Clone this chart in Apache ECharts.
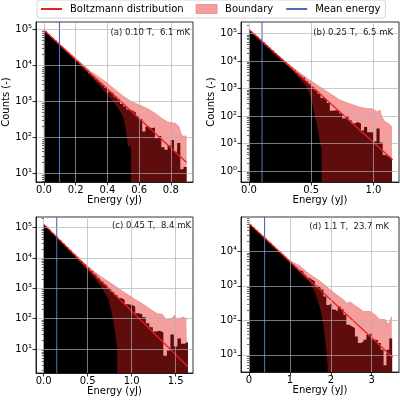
<!DOCTYPE html>
<html>
<head>
<meta charset="utf-8">
<script src="https://cdn.jsdelivr.net/npm/echarts@6.0.0/dist/echarts.min.js"></script>
<style>
  html, body { margin: 0; padding: 0; background: #fff; }
  #chart { width: 400px; height: 400px; }
</style>
</head>
<body>
<div id="chart"></div>
<script type="text/javascript">
    // ---- data ----
    var binWidth = [0.02, 0.025, 0.04, 0.07];

    // coarse histograms (dark red), one count per bin starting at 0
    var histA = [88000, 73000, 60000, 49500, 40500, 34000, 28000, 23500, 19000, 16000,
        13000, 11000, 9000, 7500, 6000, 5100, 4150, 3500, 2850, 2350,
        1870, 1690, 1360, 1150, 850, 720, 600, 555, 490, 380,
        320, 145, 200, 180, 190, 94, 110, 53, 45, 60,
        85, 40, 70, 13, 15];
    var histB = [124000, 99000, 78000, 62000, 49000, 38500, 30500, 24000, 19000, 15000,
        11800, 9400, 7400, 5850, 4600, 3650, 3000, 2500, 1900, 1500,
        1150, 870, 650, 450, 400, 300, 155, 163, 160, 124,
        81, 100, 71, 54, 61, 54, 30, 40, 26, 25,
        12, 35, 11, 3.8, 3.3, 2.8];
    var histC = [112000, 87000, 66000, 51000, 39000, 30000, 23000, 17800, 13600, 10400,
        8000, 6200, 4800, 3700, 2850, 2150, 1650, 1300, 1000, 760,
        600, 480, 420, 300, 290, 250, 150, 140, 112, 70,
        52, 38, 40, 36, 6, 9, 30, 12, 22, 15,
        17];
    var histD = [58000, 48300, 40300, 33700, 28200, 23800, 19900, 16700, 14000, 11700,
        9800, 8200, 6900, 5800, 4800, 4050, 3400, 2840, 2600, 2090,
        1700, 1500, 1350, 1000, 900, 780, 490, 280, 316, 205,
        182, 250, 210, 145, 74, 66, 60, 34, 22, 24,
        27.5, 38, 43, 27.5, 27, 22, 14, 5, 14, 30];

    // black distribution [energy, counts]
    var blackA = [[0, 95000], [0.1, 36500], [0.2, 14000], [0.25, 8400], [0.3, 4700], [0.35, 2700], [0.39, 1700],
        [0.43, 1050], [0.47, 620], [0.5, 350], [0.515, 170], [0.528, 55], [0.538, 55], [0.549, 55]];
    var blackB = [[0, 120000], [0.1, 49000], [0.2, 19000], [0.3, 7300], [0.36, 4000], [0.41, 2100], [0.46, 1150],
        [0.5, 420], [0.53, 90], [0.557, 25], [0.571, 9], [0.584, 6]];
    var blackC = [[0, 125000], [0.2, 33000], [0.37, 10000], [0.5, 3900], [0.59, 1900], [0.65, 1100], [0.73, 460],
        [0.766, 170], [0.8, 50], [0.82, 18], [0.836, 10]];
    var blackD = [[0, 60000], [0.5, 17500], [1.0, 4700], [1.25, 2350], [1.49, 1200], [1.61, 620], [1.74, 205],
        [1.82, 66], [1.88, 14], [1.92, 4]];

    // upper edge of the boundary band [energy, counts]
    var boundA = [[0, 100000], [0.1, 39000], [0.2, 16000], [0.3, 6500], [0.386, 3600], [0.45, 2100], [0.5, 1400],
        [0.55, 1000], [0.6, 800], [0.65, 640], [0.7, 470], [0.75, 320], [0.78, 270], [0.8, 255], [0.83, 245],
        [0.85, 200], [0.87, 110], [0.9, 108]];
    var boundB = [[0, 142000], [0.1, 56000], [0.2, 22000], [0.3, 9000], [0.41, 3700], [0.49, 2000], [0.57, 1150],
        [0.65, 660], [0.73, 380], [0.81, 280], [0.89, 210], [0.95, 185], [0.99, 185], [1.03, 140], [1.045, 130],
        [1.053, 165], [1.066, 95], [1.093, 62], [1.12, 54], [1.15, 40]];
    var boundC = [[0, 130000], [0.2, 35000], [0.35, 13500], [0.5, 5300], [0.65, 2400], [0.8, 1250], [0.92, 720],
        [1.04, 430], [1.16, 260], [1.23, 186], [1.29, 145], [1.35, 140], [1.39, 90], [1.45, 100], [1.47, 100],
        [1.49, 130], [1.51, 95], [1.53, 90], [1.59, 112], [1.62, 100], [1.64, 98]];
    var boundD = [[0, 64000], [0.5, 19000], [1.0, 5300], [1.25, 3700], [1.49, 2100], [1.74, 1350], [1.98, 780],
        [2.14, 550], [2.31, 390], [2.4, 310], [2.47, 340], [2.55, 290], [2.63, 250], [2.8, 180], [2.96, 180],
        [3.08, 145], [3.2, 105], [3.33, 105], [3.41, 74], [3.49, 130], [3.5, 130]];

    // Boltzmann fit end points
    var boltzA = [[0, 95000], [0.9, 20]];
    var boltzB = [[0, 140000], [1.155, 2.6]];
    var boltzC = [[0, 128000], [1.64, 2.6]];
    var boltzD = [[0, 63000], [3.51, 8.5]];

    var meanEnergy = [0.098, 0.105, 0.148, 0.38];
    var panelTitles = ['(a) 0.10 T,  6.1 mK', '(b) 0.25 T,  6.5 mK', '(c) 0.45 T,  8.4 mK', '(d) 1.1 T,  23.7 mK'];
    var xTicks = [[0, 0.2, 0.4, 0.6, 0.8], [0, 0.5, 1.0], [0, 0.5, 1.0, 1.5], [0, 1, 2, 3]];
    var yTicks = [[10, 100, 1e3, 1e4, 1e5], [1, 10, 100, 1e3, 1e4, 1e5], [10, 100, 1e3, 1e4, 1e5], [10, 100, 1e3, 1e4]];

    // ---- layout ----
    var FONT = 'DejaVu Sans';
    var grids = [
        {left: 36, top: 22, width: 157, height: 160},
        {left: 241, top: 22, width: 158, height: 160},
        {left: 36, top: 217, width: 157, height: 156},
        {left: 241, top: 217, width: 158, height: 155}
    ];
    var xRange = [[-0.05, 0.94], [-0.064, 1.206], [-0.0875, 1.697], [-0.196, 3.667]];
    var yRange = [[5.75, 162000], [0.4, 263000], [1.62, 224000], [3.2, 98000]];
    var xDecimals = [1, 1, 1, 0];
    var showCounts = [true, true, false, false];
    var titlePos = [[190, 33], [393, 33], [191, 226], [389, 227]];

    var hists = [histA, histB, histC, histD];
    var blacks = [blackA, blackB, blackC, blackD];
    var bounds = [boundA, boundB, boundC, boundD];
    var boltz = [boltzA, boltzB, boltzC, boltzD];

    var sup = {'-': '\u207b', '0': '\u2070', '1': '\u00b9', '2': '\u00b2', '3': '\u00b3', '4': '\u2074',
        '5': '\u2075', '6': '\u2076', '7': '\u2077', '8': '\u2078', '9': '\u2079'};
    function powLabel(v) {
        var e = Math.round(Math.log10(v));
        return '10' + String(e).split('').map(function (c) { return sup[c]; }).join('');
    }
    function minorTicks(r) {
        var out = [];
        for (var k = -1; k < 6; k++) {
            for (var m = 2; m < 10; m++) {
                var v = m * Math.pow(10, k);
                if (v > r[0] && v < r[1]) out.push(v);
            }
        }
        return out;
    }
    function histPoints(counts, w) {
        var pts = counts.map(function (c, i) { return [i * w, c]; });
        pts.push([counts.length * w, counts[counts.length - 1]]);
        return pts;
    }

    var gridOpts = [], xAxes = [], yAxes = [], minorAxes = [], series = [], graphics = [];
    var labelStyle = {fontSize: 10, fontFamily: FONT, color: '#000'};

    for (var i = 0; i < 4; i++) {
        gridOpts.push({
            left: grids[i].left, top: grids[i].top, width: grids[i].width, height: grids[i].height,
            show: true, borderColor: '#000', borderWidth: 0.8, backgroundColor: 'transparent',
            containLabel: false, outerBoundsMode: 'none'
        });
        xAxes.push({
            type: 'value', gridIndex: i, min: xRange[i][0], max: xRange[i][1], z: 5,
            axisLine: {show: true, onZero: false, lineStyle: {color: '#000', width: 0.8}},
            axisTick: {show: true, length: 3.5, customValues: xTicks[i], lineStyle: {color: '#000', width: 0.8}},
            axisLabel: {
                show: true, customValues: xTicks[i], margin: 3, fontSize: 10, fontFamily: FONT, color: '#000',
                formatter: (function (d) { return function (v) { return Number(v).toFixed(d); }; })(xDecimals[i])
            },
            splitLine: {show: true, lineStyle: {color: '#b0b0b0', width: 0.8, opacity: 0.85}},
            name: 'Energy (yJ)', nameLocation: 'middle', nameGap: 13, nameTextStyle: labelStyle
        });
        yAxes.push({
            type: 'log', logBase: 10, gridIndex: i, min: yRange[i][0], max: yRange[i][1], z: 5,
            axisLine: {show: true, onZero: false, lineStyle: {color: '#000', width: 0.8}},
            axisTick: {show: true, length: 3.5, customValues: yTicks[i], lineStyle: {color: '#000', width: 0.8}},
            axisLabel: {
                show: true, customValues: yTicks[i], margin: 4, fontSize: 10, fontFamily: FONT, color: '#000',
                formatter: powLabel
            },
            splitLine: {show: true, lineStyle: {color: '#b0b0b0', width: 0.8, opacity: 0.85}},
            name: showCounts[i] ? 'Counts (-)' : '', nameLocation: 'middle', nameGap: 23, nameRotate: 90,
            nameTextStyle: labelStyle
        });
        minorAxes.push({
            type: 'log', logBase: 10, gridIndex: i, min: yRange[i][0], max: yRange[i][1], position: 'left', z: 5,
            axisLine: {show: false},
            axisTick: {show: true, length: 2, customValues: minorTicks(yRange[i]), lineStyle: {color: '#000', width: 0.6}},
            axisLabel: {show: false},
            splitLine: {show: false}
        });

        series.push({
            name: 'Boundary', type: 'line', xAxisIndex: i, yAxisIndex: i, data: bounds[i],
            symbol: 'none', z: 1, silent: true,
            itemStyle: {color: '#f59e9e'},
            lineStyle: {color: '#f08585', width: 0.8},
            areaStyle: {color: '#f59e9e', opacity: 1, origin: 'start'}
        });
        series.push({
            type: 'line', xAxisIndex: i, yAxisIndex: i, data: histPoints(hists[i], binWidth[i]),
            step: 'end', symbol: 'none', z: 2, silent: true,
            itemStyle: {color: '#5f0c0c'},
            lineStyle: {color: '#5f0c0c', width: 0},
            areaStyle: {color: '#5f0c0c', opacity: 1, origin: 'start'}
        });
        series.push({
            type: 'line', xAxisIndex: i, yAxisIndex: i, data: blacks[i],
            symbol: 'none', z: 3, silent: true,
            itemStyle: {color: '#000'},
            lineStyle: {color: '#000', width: 0.5},
            areaStyle: {color: '#000', opacity: 1, origin: 'start'}
        });
        series.push({
            name: 'Boltzmann distribution', type: 'line', xAxisIndex: i, yAxisIndex: i, data: boltz[i],
            symbol: 'none', z: 4, silent: true,
            itemStyle: {color: '#e8201f'},
            lineStyle: {color: '#e8201f', width: 1.3}
        });
        series.push({
            name: 'Mean energy', type: 'line', xAxisIndex: i, yAxisIndex: i,
            data: [[meanEnergy[i], yRange[i][0]], [meanEnergy[i], yRange[i][1]]],
            symbol: 'none', z: 4, silent: true,
            itemStyle: {color: '#4a6cb5'},
            lineStyle: {color: '#4a6cb5', width: 1.1}
        });

        graphics.push({
            type: 'text', x: titlePos[i][0], y: titlePos[i][1], z: 10, silent: true,
            style: {text: panelTitles[i], align: 'right', verticalAlign: 'middle',
                fontSize: 8.5, fontFamily: FONT, fill: '#222'}
        });
    }

    var myChart = echarts.init(document.getElementById('chart'), null, {renderer: 'canvas', width: 400, height: 400});
    var option = {
        animation: false,
        backgroundColor: '#fff',
        textStyle: {fontFamily: FONT},
        legend: {
            top: 0, left: 37,
            padding: [4, 5, 4, 3],
            itemWidth: 21, itemHeight: 9, itemGap: 12,
            borderColor: '#cccccc', borderWidth: 0.8, borderRadius: 3,
            backgroundColor: '#fff',
            textStyle: {fontSize: 10, fontFamily: FONT, color: '#000', padding: [1, 0, 1, 3]},
            data: [
                {name: 'Boltzmann distribution', itemStyle: {opacity: 0}},
                {name: 'Boundary', icon: 'rect', itemStyle: {color: '#f59e9e', borderColor: '#f08585', borderWidth: 0.8}},
                {name: 'Mean energy', itemStyle: {opacity: 0}}
            ]
        },
        grid: gridOpts,
        xAxis: xAxes,
        yAxis: yAxes.concat(minorAxes),
        series: series,
        graphic: graphics
    };
    myChart.setOption(option);
</script>
</body>
</html>
